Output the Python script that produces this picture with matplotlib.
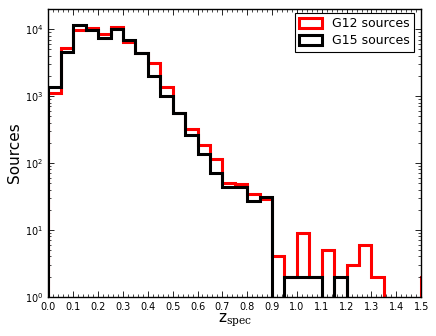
import numpy as np
import matplotlib
matplotlib.use("Agg")
import matplotlib.pyplot as plt
from matplotlib.patches import Patch
from matplotlib.ticker import MultipleLocator, LogLocator

plt.rcParams['mathtext.fontset'] = 'custom'
plt.rcParams['mathtext.rm'] = 'DejaVu Serif'
plt.rcParams['xtick.direction'] = 'in'
plt.rcParams['ytick.direction'] = 'in'

# histogram bins in z_spec (width 0.05)
bin_edges = np.round(np.arange(0.0, 1.551, 0.05), 2)

g12_counts = [1130, 5230, 9600, 10300, 8480, 10900, 6430, 4400, 3120, 1365,
              568, 320, 187, 114, 50, 49, 34, 29, 4, 2,
              9, 2, 5, 0, 3, 6, 2, 0, 0, 0, 2]
g15_counts = [1390, 4500, 11700, 9730, 7380, 10070, 6960, 4350, 2030, 1010,
              568, 264, 135, 70, 44, 43, 27, 31, 0, 2,
              2, 2, 0, 2, 0, 0, 0, 0, 0, 0, 0]
labels = ['G12 sources', 'G15 sources']
colors = ['red', 'black']

fig = plt.figure(figsize=(4.36, 3.36), dpi=100)
ax = fig.add_axes([0.111, 0.117, 0.855, 0.856])

for counts, col in zip([g12_counts, g15_counts], colors):
    ax.stairs(counts, bin_edges, baseline=0, color=col, linewidth=2.2)

ax.set_yscale('log')
ax.set_xlim(0, 1.5)
ax.set_ylim(1, 2e4)

ax.xaxis.set_major_locator(MultipleLocator(0.1))
ax.xaxis.set_minor_locator(MultipleLocator(0.02))
ax.yaxis.set_major_locator(LogLocator(base=10))
ax.yaxis.set_minor_locator(LogLocator(base=10, subs=np.arange(2, 10)))
ax.tick_params(which='both', top=True, right=True, labelsize=7)
ax.tick_params(which='major', length=4, width=0.6)
ax.tick_params(which='minor', length=2, width=0.5)
for sp in ax.spines.values():
    sp.set_linewidth(1.0)

ax.set_xlabel(r'z$_{\rm spec}$', fontsize=11, labelpad=0)
ax.set_ylabel('Sources', fontsize=11, labelpad=2)

handles = [Patch(facecolor='none', edgecolor=c, linewidth=2.2) for c in colors]
leg = ax.legend(handles, labels, loc='upper right', bbox_to_anchor=(0.98, 0.986),
                borderaxespad=0, fontsize=9, fancybox=False, framealpha=1,
                edgecolor='black', handlelength=1.8, handleheight=0.8,
                handletextpad=0.8, borderpad=0.35, labelspacing=0.3)
leg.get_frame().set_linewidth(0.8)

fig.savefig('out.png', dpi=100)
